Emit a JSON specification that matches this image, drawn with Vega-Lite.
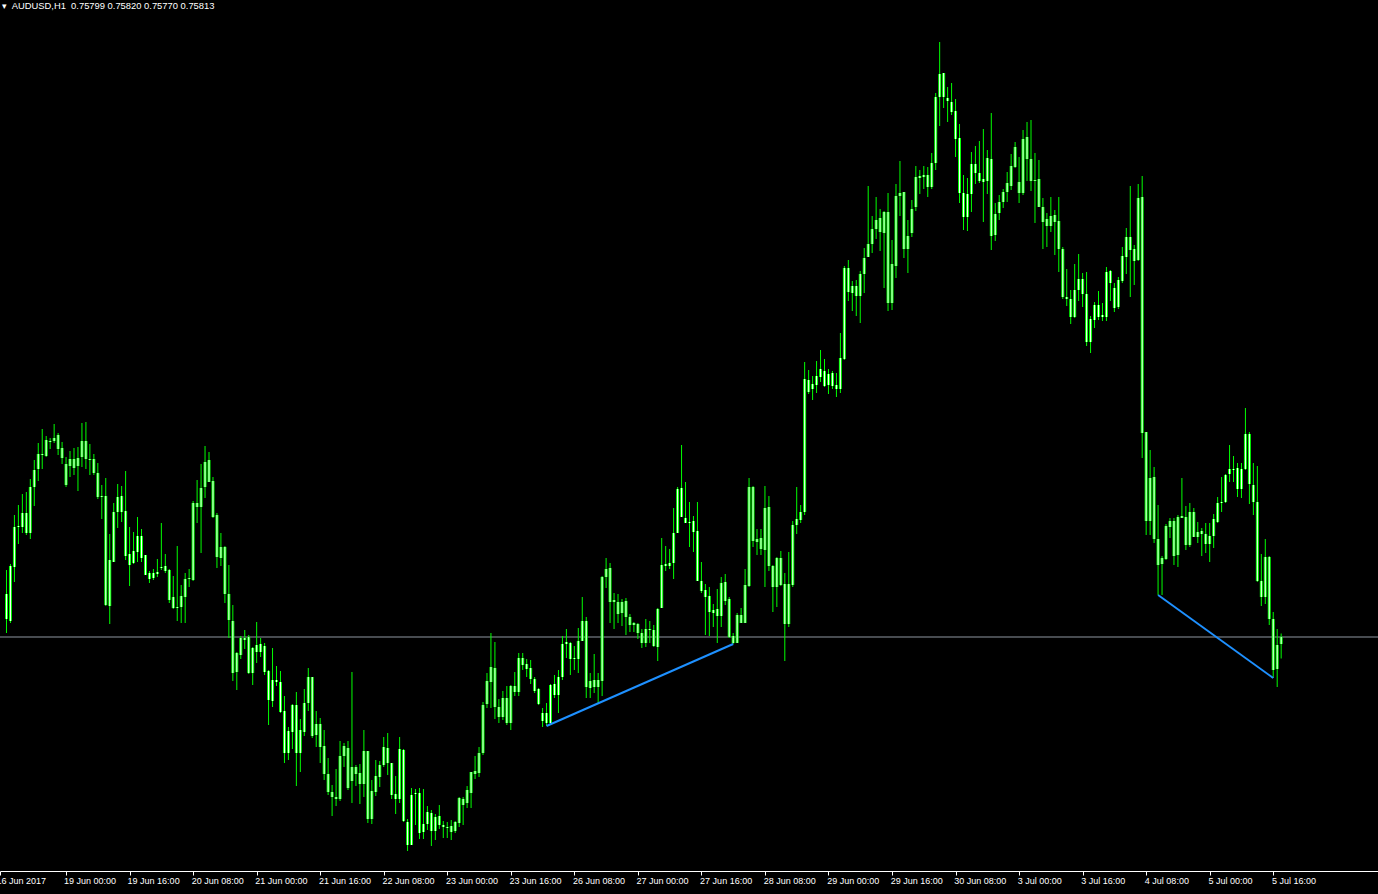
{
"$schema":"https://vega.github.io/schema/vega-lite/v6.json",
"width":1378,"height":871,
"autosize":{"type":"none"},
"padding":{"left":0,"top":0,"right":0,"bottom":23},
"background":"#000000",
"config":{"view":{"stroke":null}},
"title":{"text":"▾\u00a0\u00a0AUDUSD,H1\u00a0\u00a00.75799 0.75820 0.75770 0.75813","anchor":"start","frame":"group","orient":"top","offset":-11,"baseline":"top","dx":1.5,"font":"Liberation Sans","fontSize":9.4,"fontWeight":"normal","color":"#ffffff"},
"datasets":{
"bid":[{"price":0.75813}],
"bars":[
{"k":0,"o":0.75899,"h":0.75947,"l":0.75821,"c":0.75849},
{"k":1,"o":0.75845,"h":0.75959,"l":0.75841,"c":0.75955},
{"k":2,"o":0.75953,"h":0.76057,"l":0.75923,"c":0.76033},
{"k":3,"o":0.76033,"h":0.76077,"l":0.75999,"c":0.76035},
{"k":4,"o":0.76033,"h":0.76099,"l":0.76021,"c":0.76061},
{"k":5,"o":0.76061,"h":0.76103,"l":0.76017,"c":0.76021},
{"k":6,"o":0.76021,"h":0.76129,"l":0.76009,"c":0.76113},
{"k":7,"o":0.76113,"h":0.76167,"l":0.76075,"c":0.76147},
{"k":8,"o":0.76149,"h":0.76201,"l":0.76125,"c":0.76179},
{"k":9,"o":0.76179,"h":0.76229,"l":0.76149,"c":0.76177},
{"k":10,"o":0.76175,"h":0.76215,"l":0.76173,"c":0.76207},
{"k":11,"o":0.76205,"h":0.76211,"l":0.76189,"c":0.76203},
{"k":12,"o":0.76205,"h":0.76239,"l":0.76201,"c":0.76211},
{"k":13,"o":0.76217,"h":0.76221,"l":0.76177,"c":0.76189},
{"k":14,"o":0.76191,"h":0.76203,"l":0.76159,"c":0.76171},
{"k":15,"o":0.76159,"h":0.76173,"l":0.76113,"c":0.76117},
{"k":16,"o":0.76155,"h":0.76185,"l":0.76133,"c":0.76169},
{"k":17,"o":0.76169,"h":0.76191,"l":0.76137,"c":0.76151},
{"k":18,"o":0.76155,"h":0.76193,"l":0.76105,"c":0.76171},
{"k":19,"o":0.76173,"h":0.76241,"l":0.76153,"c":0.76205},
{"k":20,"o":0.76205,"h":0.76243,"l":0.76149,"c":0.76169},
{"k":21,"o":0.76169,"h":0.76199,"l":0.76137,"c":0.76167},
{"k":22,"o":0.76169,"h":0.76179,"l":0.76137,"c":0.76141},
{"k":23,"o":0.76141,"h":0.76161,"l":0.76089,"c":0.76093},
{"k":24,"o":0.76093,"h":0.76117,"l":0.76049,"c":0.76095},
{"k":25,"o":0.76095,"h":0.76131,"l":0.75875,"c":0.75877},
{"k":26,"o":0.75875,"h":0.76019,"l":0.75839,"c":0.75967},
{"k":27,"o":0.75963,"h":0.76081,"l":0.75963,"c":0.76063},
{"k":28,"o":0.76063,"h":0.76119,"l":0.76031,"c":0.76093},
{"k":29,"o":0.76095,"h":0.76115,"l":0.76043,"c":0.76063},
{"k":30,"o":0.76065,"h":0.76145,"l":0.75967,"c":0.75975},
{"k":31,"o":0.75979,"h":0.76033,"l":0.75915,"c":0.75957},
{"k":32,"o":0.75961,"h":0.76023,"l":0.75959,"c":0.75985},
{"k":33,"o":0.75983,"h":0.76053,"l":0.75963,"c":0.76015},
{"k":34,"o":0.76015,"h":0.76029,"l":0.75963,"c":0.75971},
{"k":35,"o":0.75977,"h":0.75977,"l":0.75937,"c":0.75937},
{"k":36,"o":0.75941,"h":0.75945,"l":0.75921,"c":0.75929},
{"k":37,"o":0.75931,"h":0.75949,"l":0.75927,"c":0.75941},
{"k":38,"o":0.75943,"h":0.75969,"l":0.75933,"c":0.75939},
{"k":39,"o":0.75951,"h":0.76041,"l":0.75947,"c":0.75953},
{"k":40,"o":0.75955,"h":0.75979,"l":0.75941,"c":0.75945},
{"k":41,"o":0.75947,"h":0.75949,"l":0.75881,"c":0.75887},
{"k":42,"o":0.75893,"h":0.75935,"l":0.75869,"c":0.75871},
{"k":43,"o":0.75871,"h":0.75995,"l":0.75845,"c":0.75873},
{"k":44,"o":0.75873,"h":0.75917,"l":0.75841,"c":0.75895},
{"k":45,"o":0.75893,"h":0.75941,"l":0.75841,"c":0.75929},
{"k":46,"o":0.75929,"h":0.75949,"l":0.75913,"c":0.75931},
{"k":47,"o":0.75927,"h":0.76085,"l":0.75925,"c":0.76081},
{"k":48,"o":0.76081,"h":0.76127,"l":0.76041,"c":0.76073},
{"k":49,"o":0.76073,"h":0.76159,"l":0.75981,"c":0.76111},
{"k":50,"o":0.76113,"h":0.76195,"l":0.76091,"c":0.76163},
{"k":51,"o":0.76167,"h":0.76183,"l":0.76123,"c":0.76123},
{"k":52,"o":0.76125,"h":0.76133,"l":0.76051,"c":0.76053},
{"k":53,"o":0.76057,"h":0.76061,"l":0.75951,"c":0.75973},
{"k":54,"o":0.75971,"h":0.76021,"l":0.75955,"c":0.75993},
{"k":55,"o":0.75993,"h":0.75995,"l":0.75881,"c":0.75899},
{"k":56,"o":0.75899,"h":0.75957,"l":0.75811,"c":0.75847},
{"k":57,"o":0.75845,"h":0.75877,"l":0.75725,"c":0.75741},
{"k":58,"o":0.75743,"h":0.75783,"l":0.75707,"c":0.75781},
{"k":59,"o":0.75777,"h":0.75815,"l":0.75769,"c":0.75811},
{"k":60,"o":0.75811,"h":0.75827,"l":0.75789,"c":0.75807},
{"k":61,"o":0.75813,"h":0.75817,"l":0.75739,"c":0.75741},
{"k":62,"o":0.75741,"h":0.75793,"l":0.75717,"c":0.75791},
{"k":63,"o":0.75797,"h":0.75843,"l":0.75761,"c":0.75783},
{"k":64,"o":0.75783,"h":0.75811,"l":0.75773,"c":0.75799},
{"k":65,"o":0.75795,"h":0.75801,"l":0.75737,"c":0.75743},
{"k":66,"o":0.75745,"h":0.75747,"l":0.75637,"c":0.75687},
{"k":67,"o":0.75685,"h":0.75791,"l":0.75673,"c":0.75727},
{"k":68,"o":0.75727,"h":0.75755,"l":0.75715,"c":0.75723},
{"k":69,"o":0.75723,"h":0.75745,"l":0.75661,"c":0.75663},
{"k":70,"o":0.75665,"h":0.75695,"l":0.75561,"c":0.75581},
{"k":71,"o":0.75581,"h":0.75633,"l":0.75567,"c":0.75625},
{"k":72,"o":0.75623,"h":0.75679,"l":0.75589,"c":0.75677},
{"k":73,"o":0.75677,"h":0.75703,"l":0.75515,"c":0.75581},
{"k":74,"o":0.75581,"h":0.75649,"l":0.75543,"c":0.75627},
{"k":75,"o":0.75623,"h":0.75709,"l":0.75615,"c":0.75681},
{"k":76,"o":0.75681,"h":0.75751,"l":0.75665,"c":0.75733},
{"k":77,"o":0.75733,"h":0.75733,"l":0.75611,"c":0.75615},
{"k":78,"o":0.75617,"h":0.75665,"l":0.75593,"c":0.75639},
{"k":79,"o":0.75639,"h":0.75651,"l":0.75561,"c":0.75593},
{"k":80,"o":0.75595,"h":0.75627,"l":0.75527,"c":0.75539},
{"k":81,"o":0.75539,"h":0.75571,"l":0.75497,"c":0.75503},
{"k":82,"o":0.75503,"h":0.75517,"l":0.75455,"c":0.75493},
{"k":83,"o":0.75493,"h":0.75549,"l":0.75475,"c":0.75489},
{"k":84,"o":0.75489,"h":0.75605,"l":0.75485,"c":0.75575},
{"k":85,"o":0.75575,"h":0.75601,"l":0.75553,"c":0.75595},
{"k":86,"o":0.75591,"h":0.75605,"l":0.75507,"c":0.75511},
{"k":87,"o":0.75525,"h":0.75743,"l":0.75481,"c":0.75553},
{"k":88,"o":0.75553,"h":0.75557,"l":0.75515,"c":0.75539},
{"k":89,"o":0.75541,"h":0.75559,"l":0.75479,"c":0.75519},
{"k":90,"o":0.75519,"h":0.75627,"l":0.75493,"c":0.75585},
{"k":91,"o":0.75585,"h":0.75585,"l":0.75441,"c":0.75449},
{"k":92,"o":0.75449,"h":0.75527,"l":0.75439,"c":0.75505},
{"k":93,"o":0.75503,"h":0.75567,"l":0.75495,"c":0.75535},
{"k":94,"o":0.75533,"h":0.75565,"l":0.75513,"c":0.75557},
{"k":95,"o":0.75557,"h":0.75613,"l":0.75553,"c":0.75593},
{"k":96,"o":0.75591,"h":0.75621,"l":0.75537,"c":0.75561},
{"k":97,"o":0.75561,"h":0.75561,"l":0.75489,"c":0.75497},
{"k":98,"o":0.75499,"h":0.75535,"l":0.75459,"c":0.75489},
{"k":99,"o":0.75489,"h":0.75613,"l":0.75481,"c":0.75589},
{"k":100,"o":0.75587,"h":0.75589,"l":0.75443,"c":0.75445},
{"k":101,"o":0.75443,"h":0.75449,"l":0.75385,"c":0.75397},
{"k":102,"o":0.75397,"h":0.75511,"l":0.75397,"c":0.75497},
{"k":103,"o":0.75499,"h":0.75509,"l":0.75437,"c":0.75501},
{"k":104,"o":0.75501,"h":0.75511,"l":0.75409,"c":0.75421},
{"k":105,"o":0.75423,"h":0.75509,"l":0.75409,"c":0.75439},
{"k":106,"o":0.75439,"h":0.75475,"l":0.75427,"c":0.75463},
{"k":107,"o":0.75461,"h":0.75467,"l":0.75395,"c":0.75425},
{"k":108,"o":0.75425,"h":0.75459,"l":0.75407,"c":0.75453},
{"k":109,"o":0.75455,"h":0.75477,"l":0.75429,"c":0.75437},
{"k":110,"o":0.75437,"h":0.75445,"l":0.75411,"c":0.75433},
{"k":111,"o":0.75433,"h":0.75443,"l":0.75411,"c":0.75431},
{"k":112,"o":0.75435,"h":0.75447,"l":0.75407,"c":0.75423},
{"k":113,"o":0.75425,"h":0.75445,"l":0.75421,"c":0.75443},
{"k":114,"o":0.75441,"h":0.75493,"l":0.75433,"c":0.75491},
{"k":115,"o":0.75489,"h":0.75493,"l":0.75437,"c":0.75477},
{"k":116,"o":0.75481,"h":0.75515,"l":0.75471,"c":0.75507},
{"k":117,"o":0.75501,"h":0.75543,"l":0.75471,"c":0.75543},
{"k":118,"o":0.75545,"h":0.75575,"l":0.75529,"c":0.75539},
{"k":119,"o":0.75541,"h":0.75593,"l":0.75533,"c":0.75581},
{"k":120,"o":0.75581,"h":0.75683,"l":0.75577,"c":0.75677},
{"k":121,"o":0.75679,"h":0.75741,"l":0.75671,"c":0.75725},
{"k":122,"o":0.75723,"h":0.75821,"l":0.75671,"c":0.75753},
{"k":123,"o":0.75751,"h":0.75803,"l":0.75649,"c":0.75673},
{"k":124,"o":0.75673,"h":0.75689,"l":0.75641,"c":0.75653},
{"k":125,"o":0.75653,"h":0.75705,"l":0.75647,"c":0.75691},
{"k":126,"o":0.75691,"h":0.75715,"l":0.75637,"c":0.75641},
{"k":127,"o":0.75641,"h":0.75717,"l":0.75627,"c":0.75715},
{"k":128,"o":0.75715,"h":0.75743,"l":0.75695,"c":0.75703},
{"k":129,"o":0.75703,"h":0.75781,"l":0.75695,"c":0.75771},
{"k":130,"o":0.75771,"h":0.75781,"l":0.75747,"c":0.75757},
{"k":131,"o":0.75759,"h":0.75769,"l":0.75733,"c":0.75749},
{"k":132,"o":0.75751,"h":0.75767,"l":0.75719,"c":0.75729},
{"k":133,"o":0.75729,"h":0.75733,"l":0.75701,"c":0.75705},
{"k":134,"o":0.75709,"h":0.75711,"l":0.75677,"c":0.75679},
{"k":135,"o":0.75661,"h":0.75671,"l":0.75633,"c":0.75645},
{"k":136,"o":0.75641,"h":0.75681,"l":0.75635,"c":0.75661},
{"k":137,"o":0.75641,"h":0.75719,"l":0.75639,"c":0.75717},
{"k":138,"o":0.75719,"h":0.75737,"l":0.75691,"c":0.75697},
{"k":139,"o":0.75697,"h":0.75747,"l":0.75661,"c":0.75733},
{"k":140,"o":0.75733,"h":0.75815,"l":0.75727,"c":0.75799},
{"k":141,"o":0.75799,"h":0.75829,"l":0.75771,"c":0.75803},
{"k":142,"o":0.75801,"h":0.75803,"l":0.75737,"c":0.75769},
{"k":143,"o":0.75769,"h":0.75795,"l":0.75747,"c":0.75771},
{"k":144,"o":0.75769,"h":0.75831,"l":0.75741,"c":0.75805},
{"k":145,"o":0.75805,"h":0.75893,"l":0.75805,"c":0.75845},
{"k":146,"o":0.75845,"h":0.75853,"l":0.75691,"c":0.75713},
{"k":147,"o":0.75711,"h":0.75741,"l":0.75691,"c":0.75725},
{"k":148,"o":0.75727,"h":0.75779,"l":0.75701,"c":0.75713},
{"k":149,"o":0.75713,"h":0.75741,"l":0.75681,"c":0.75727},
{"k":150,"o":0.75725,"h":0.75935,"l":0.75695,"c":0.75933},
{"k":151,"o":0.75933,"h":0.75971,"l":0.75911,"c":0.75949},
{"k":152,"o":0.75951,"h":0.75961,"l":0.75841,"c":0.75883},
{"k":153,"o":0.75883,"h":0.75901,"l":0.75829,"c":0.75887},
{"k":154,"o":0.75883,"h":0.75899,"l":0.75841,"c":0.75859},
{"k":155,"o":0.75861,"h":0.75889,"l":0.75835,"c":0.75883},
{"k":156,"o":0.75885,"h":0.75891,"l":0.75817,"c":0.75853},
{"k":157,"o":0.75853,"h":0.75859,"l":0.75823,"c":0.75837},
{"k":158,"o":0.75837,"h":0.75843,"l":0.75823,"c":0.75841},
{"k":159,"o":0.75839,"h":0.75841,"l":0.75809,"c":0.75821},
{"k":160,"o":0.75821,"h":0.75829,"l":0.75791,"c":0.75801},
{"k":161,"o":0.75801,"h":0.75849,"l":0.75793,"c":0.75829},
{"k":162,"o":0.75829,"h":0.75845,"l":0.75801,"c":0.75827},
{"k":163,"o":0.75827,"h":0.75837,"l":0.75793,"c":0.75795},
{"k":164,"o":0.75793,"h":0.75871,"l":0.75765,"c":0.75869},
{"k":165,"o":0.75871,"h":0.76011,"l":0.75871,"c":0.75957},
{"k":166,"o":0.75955,"h":0.75995,"l":0.75945,"c":0.75959},
{"k":167,"o":0.75961,"h":0.75989,"l":0.75949,"c":0.75955},
{"k":168,"o":0.75961,"h":0.76071,"l":0.75929,"c":0.76021},
{"k":169,"o":0.76021,"h":0.76113,"l":0.76021,"c":0.76109},
{"k":170,"o":0.76111,"h":0.76197,"l":0.76053,"c":0.76053},
{"k":171,"o":0.76051,"h":0.76123,"l":0.76041,"c":0.76041},
{"k":172,"o":0.76041,"h":0.76083,"l":0.75993,"c":0.76043},
{"k":173,"o":0.76045,"h":0.76055,"l":0.75983,"c":0.76023},
{"k":174,"o":0.76025,"h":0.76083,"l":0.75925,"c":0.75925},
{"k":175,"o":0.75925,"h":0.75963,"l":0.75901,"c":0.75905},
{"k":176,"o":0.75907,"h":0.75919,"l":0.75817,"c":0.75893},
{"k":177,"o":0.75895,"h":0.75913,"l":0.75815,"c":0.75863},
{"k":178,"o":0.75861,"h":0.75879,"l":0.75833,"c":0.75867},
{"k":179,"o":0.75869,"h":0.75909,"l":0.75801,"c":0.75855},
{"k":180,"o":0.75855,"h":0.75933,"l":0.75833,"c":0.75921},
{"k":181,"o":0.75923,"h":0.75939,"l":0.75877,"c":0.75885},
{"k":182,"o":0.75889,"h":0.75893,"l":0.75811,"c":0.75813},
{"k":183,"o":0.75815,"h":0.75821,"l":0.75799,"c":0.75801},
{"k":184,"o":0.75801,"h":0.75861,"l":0.75801,"c":0.75857},
{"k":185,"o":0.75857,"h":0.75871,"l":0.75841,"c":0.75841},
{"k":186,"o":0.75841,"h":0.75949,"l":0.75841,"c":0.75917},
{"k":187,"o":0.75915,"h":0.76131,"l":0.75913,"c":0.76113},
{"k":188,"o":0.76113,"h":0.76115,"l":0.75993,"c":0.76005},
{"k":189,"o":0.76003,"h":0.76029,"l":0.75977,"c":0.76009},
{"k":190,"o":0.76011,"h":0.76029,"l":0.75977,"c":0.75989},
{"k":191,"o":0.75987,"h":0.76115,"l":0.75913,"c":0.76071},
{"k":192,"o":0.76073,"h":0.76095,"l":0.75945,"c":0.75955},
{"k":193,"o":0.75955,"h":0.75957,"l":0.75863,"c":0.75913},
{"k":194,"o":0.75913,"h":0.75973,"l":0.75873,"c":0.75971},
{"k":195,"o":0.75971,"h":0.75985,"l":0.75915,"c":0.75917},
{"k":196,"o":0.75919,"h":0.75941,"l":0.75765,"c":0.75839},
{"k":197,"o":0.75839,"h":0.75983,"l":0.75833,"c":0.75919},
{"k":198,"o":0.75917,"h":0.76045,"l":0.75913,"c":0.76037},
{"k":199,"o":0.76037,"h":0.76113,"l":0.76019,"c":0.76049},
{"k":200,"o":0.76047,"h":0.76077,"l":0.76041,"c":0.76063},
{"k":201,"o":0.76063,"h":0.76363,"l":0.76057,"c":0.76329},
{"k":202,"o":0.76327,"h":0.76347,"l":0.76299,"c":0.76303},
{"k":203,"o":0.76309,"h":0.76335,"l":0.76287,"c":0.76319},
{"k":204,"o":0.76317,"h":0.76365,"l":0.76301,"c":0.76335},
{"k":205,"o":0.76333,"h":0.76387,"l":0.76323,"c":0.76349},
{"k":206,"o":0.76345,"h":0.76369,"l":0.76313,"c":0.76315},
{"k":207,"o":0.76317,"h":0.76349,"l":0.76299,"c":0.76339},
{"k":208,"o":0.76341,"h":0.76345,"l":0.76309,"c":0.76315},
{"k":209,"o":0.76317,"h":0.76341,"l":0.76293,"c":0.76309},
{"k":210,"o":0.76309,"h":0.76421,"l":0.76301,"c":0.76371},
{"k":211,"o":0.76369,"h":0.76555,"l":0.76367,"c":0.76551},
{"k":212,"o":0.76551,"h":0.76567,"l":0.76485,"c":0.76503},
{"k":213,"o":0.76501,"h":0.76525,"l":0.76465,"c":0.76515},
{"k":214,"o":0.76515,"h":0.76527,"l":0.76455,"c":0.76495},
{"k":215,"o":0.76495,"h":0.76545,"l":0.76441,"c":0.76539},
{"k":216,"o":0.76539,"h":0.76591,"l":0.76501,"c":0.76571},
{"k":217,"o":0.76573,"h":0.76715,"l":0.76573,"c":0.76599},
{"k":218,"o":0.76599,"h":0.76655,"l":0.76581,"c":0.76629},
{"k":219,"o":0.76629,"h":0.76693,"l":0.76609,"c":0.76647},
{"k":220,"o":0.76651,"h":0.76669,"l":0.76585,"c":0.76623},
{"k":221,"o":0.76621,"h":0.76665,"l":0.76511,"c":0.76663},
{"k":222,"o":0.76663,"h":0.76701,"l":0.76465,"c":0.76481},
{"k":223,"o":0.76481,"h":0.76607,"l":0.76467,"c":0.76559},
{"k":224,"o":0.76555,"h":0.76719,"l":0.76531,"c":0.76695},
{"k":225,"o":0.76695,"h":0.76765,"l":0.76655,"c":0.76701},
{"k":226,"o":0.76703,"h":0.76703,"l":0.76571,"c":0.76589},
{"k":227,"o":0.76589,"h":0.76647,"l":0.76541,"c":0.76615},
{"k":228,"o":0.76621,"h":0.76687,"l":0.76613,"c":0.76669},
{"k":229,"o":0.76673,"h":0.76755,"l":0.76665,"c":0.76733},
{"k":230,"o":0.76731,"h":0.76747,"l":0.76699,"c":0.76735},
{"k":231,"o":0.76733,"h":0.76755,"l":0.76709,"c":0.76737},
{"k":232,"o":0.76737,"h":0.76753,"l":0.76693,"c":0.76713},
{"k":233,"o":0.76713,"h":0.76781,"l":0.76709,"c":0.76761},
{"k":234,"o":0.76761,"h":0.76901,"l":0.76747,"c":0.76893},
{"k":235,"o":0.76893,"h":0.77003,"l":0.76835,"c":0.76939},
{"k":236,"o":0.76941,"h":0.76941,"l":0.76871,"c":0.76893},
{"k":237,"o":0.76891,"h":0.76913,"l":0.76843,"c":0.76885},
{"k":238,"o":0.76883,"h":0.76921,"l":0.76857,"c":0.76863},
{"k":239,"o":0.76865,"h":0.76889,"l":0.76773,"c":0.76809},
{"k":240,"o":0.76811,"h":0.76839,"l":0.76681,"c":0.76701},
{"k":241,"o":0.76701,"h":0.76737,"l":0.76627,"c":0.76653},
{"k":242,"o":0.76653,"h":0.76731,"l":0.76625,"c":0.76699},
{"k":243,"o":0.76699,"h":0.76783,"l":0.76663,"c":0.76759},
{"k":244,"o":0.76759,"h":0.76795,"l":0.76719,"c":0.76741},
{"k":245,"o":0.76741,"h":0.76805,"l":0.76721,"c":0.76725},
{"k":246,"o":0.76723,"h":0.76829,"l":0.76643,"c":0.76729},
{"k":247,"o":0.76725,"h":0.76787,"l":0.76699,"c":0.76771},
{"k":248,"o":0.76769,"h":0.76861,"l":0.76587,"c":0.76615},
{"k":249,"o":0.76617,"h":0.76681,"l":0.76605,"c":0.76659},
{"k":250,"o":0.76661,"h":0.76697,"l":0.76647,"c":0.76683},
{"k":251,"o":0.76683,"h":0.76709,"l":0.76671,"c":0.76703},
{"k":252,"o":0.76703,"h":0.76743,"l":0.76683,"c":0.76721},
{"k":253,"o":0.76715,"h":0.76779,"l":0.76707,"c":0.76755},
{"k":254,"o":0.76753,"h":0.76803,"l":0.76751,"c":0.76793},
{"k":255,"o":0.76723,"h":0.76773,"l":0.76681,"c":0.76701},
{"k":256,"o":0.76701,"h":0.76827,"l":0.76697,"c":0.76809},
{"k":257,"o":0.76813,"h":0.76843,"l":0.76725,"c":0.76769},
{"k":258,"o":0.76769,"h":0.76847,"l":0.76705,"c":0.76725},
{"k":259,"o":0.76725,"h":0.76781,"l":0.76641,"c":0.76727},
{"k":260,"o":0.76729,"h":0.76767,"l":0.76673,"c":0.76673},
{"k":261,"o":0.76673,"h":0.76691,"l":0.76589,"c":0.76643},
{"k":262,"o":0.76649,"h":0.76661,"l":0.76593,"c":0.76635},
{"k":263,"o":0.76635,"h":0.76693,"l":0.76623,"c":0.76655},
{"k":264,"o":0.76657,"h":0.76667,"l":0.76577,"c":0.76643},
{"k":265,"o":0.76645,"h":0.76693,"l":0.76543,"c":0.76589},
{"k":266,"o":0.76589,"h":0.76593,"l":0.76489,"c":0.76493},
{"k":267,"o":0.76493,"h":0.76549,"l":0.76475,"c":0.76489},
{"k":268,"o":0.76489,"h":0.76507,"l":0.76439,"c":0.76453},
{"k":269,"o":0.76453,"h":0.76559,"l":0.76451,"c":0.76507},
{"k":270,"o":0.76507,"h":0.76579,"l":0.76485,"c":0.76529},
{"k":271,"o":0.76529,"h":0.76541,"l":0.76473,"c":0.76499},
{"k":272,"o":0.76499,"h":0.76543,"l":0.76395,"c":0.76403},
{"k":273,"o":0.76403,"h":0.76455,"l":0.76381,"c":0.76449},
{"k":274,"o":0.76447,"h":0.76483,"l":0.76431,"c":0.76477},
{"k":275,"o":0.76477,"h":0.76505,"l":0.76447,"c":0.76453},
{"k":276,"o":0.76453,"h":0.76481,"l":0.76445,"c":0.76457},
{"k":277,"o":0.76453,"h":0.76553,"l":0.76445,"c":0.76543},
{"k":278,"o":0.76545,"h":0.76547,"l":0.76485,"c":0.76521},
{"k":279,"o":0.76511,"h":0.76521,"l":0.76463,"c":0.76471},
{"k":280,"o":0.76473,"h":0.76533,"l":0.76469,"c":0.76527},
{"k":281,"o":0.76525,"h":0.76593,"l":0.76521,"c":0.76575},
{"k":282,"o":0.76573,"h":0.76631,"l":0.76539,"c":0.76613},
{"k":283,"o":0.76613,"h":0.76715,"l":0.76493,"c":0.76587},
{"k":284,"o":0.76589,"h":0.76597,"l":0.76517,"c":0.76565},
{"k":285,"o":0.76567,"h":0.76719,"l":0.76565,"c":0.76691},
{"k":286,"o":0.76693,"h":0.76735,"l":0.76171,"c":0.76221},
{"k":287,"o":0.76223,"h":0.76223,"l":0.76017,"c":0.76045},
{"k":288,"o":0.76045,"h":0.76187,"l":0.76017,"c":0.76131},
{"k":289,"o":0.76133,"h":0.76153,"l":0.76001,"c":0.76009},
{"k":290,"o":0.76009,"h":0.76077,"l":0.75897,"c":0.75957},
{"k":291,"o":0.75959,"h":0.75975,"l":0.75897,"c":0.75971},
{"k":292,"o":0.75969,"h":0.76039,"l":0.75967,"c":0.76035},
{"k":293,"o":0.76033,"h":0.76051,"l":0.76011,"c":0.76045},
{"k":294,"o":0.76045,"h":0.76051,"l":0.75957,"c":0.75975},
{"k":295,"o":0.75977,"h":0.76057,"l":0.75953,"c":0.76053},
{"k":296,"o":0.76051,"h":0.76131,"l":0.76051,"c":0.76055},
{"k":297,"o":0.76053,"h":0.76075,"l":0.75987,"c":0.75997},
{"k":298,"o":0.75997,"h":0.76081,"l":0.75993,"c":0.76063},
{"k":299,"o":0.76063,"h":0.76071,"l":0.76013,"c":0.76013},
{"k":300,"o":0.76013,"h":0.76043,"l":0.76001,"c":0.76023},
{"k":301,"o":0.76025,"h":0.76031,"l":0.75975,"c":0.76019},
{"k":302,"o":0.76019,"h":0.76041,"l":0.75981,"c":0.75999},
{"k":303,"o":0.75999,"h":0.76041,"l":0.75963,"c":0.76015},
{"k":304,"o":0.76015,"h":0.76059,"l":0.75991,"c":0.76049},
{"k":305,"o":0.76043,"h":0.76093,"l":0.76041,"c":0.76081},
{"k":306,"o":0.76081,"h":0.76133,"l":0.76063,"c":0.76083},
{"k":307,"o":0.76083,"h":0.76139,"l":0.76081,"c":0.76137},
{"k":308,"o":0.76139,"h":0.76197,"l":0.76123,"c":0.76149},
{"k":309,"o":0.76149,"h":0.76175,"l":0.76123,"c":0.76147},
{"k":310,"o":0.76151,"h":0.76161,"l":0.76093,"c":0.76109},
{"k":311,"o":0.76109,"h":0.76161,"l":0.76091,"c":0.76149},
{"k":312,"o":0.76149,"h":0.76271,"l":0.76147,"c":0.76219},
{"k":313,"o":0.76219,"h":0.76223,"l":0.76079,"c":0.76119},
{"k":314,"o":0.76117,"h":0.76161,"l":0.76057,"c":0.76083},
{"k":315,"o":0.76083,"h":0.76155,"l":0.75923,"c":0.75925},
{"k":316,"o":0.75925,"h":0.75979,"l":0.75875,"c":0.75893},
{"k":317,"o":0.75893,"h":0.76009,"l":0.75879,"c":0.75973},
{"k":318,"o":0.75973,"h":0.75975,"l":0.75837,"c":0.75849},
{"k":319,"o":0.75849,"h":0.75863,"l":0.75731,"c":0.75747},
{"k":320,"o":0.75749,"h":0.75829,"l":0.75713,"c":0.75797},
{"k":321,"o":0.75799,"h":0.75820,"l":0.75770,"c":0.75813}
],
"trend":[
{"line":1,"k":136,"p":0.75635},
{"line":1,"k":183,"p":0.75799},
{"line":2,"k":290,"p":0.75897},
{"line":2,"k":319,"p":0.75731}
]
},
"layer":[
{"data":{"name":"bid"},
 "mark":{"type":"rule","color":"#8e96a0","strokeWidth":1},
 "encoding":{"y":{"field":"price","type":"quantitative","scale":{"domain":[0.75345,0.77087],"nice":false,"zero":false},"axis":null}}},
{"data":{"name":"bars"},
 "mark":{"type":"rule","color":"#00ff00","strokeWidth":1},
 "encoding":{
  "x":{"field":"k","type":"quantitative","scale":{"domain":[-0.375,344.125],"nice":false,"zero":false},
   "axis":{"values":[-1.625,15,31,47,63,79,95,111,127,143,159,175,191,207,223,239,255,271,287,303,319],
    "labelExpr":"datum.value < 0 ? '16 Jun 2017' : ['19 Jun 00:00','19 Jun 16:00','20 Jun 08:00','21 Jun 00:00','21 Jun 16:00','22 Jun 08:00','23 Jun 00:00','23 Jun 16:00','26 Jun 08:00','27 Jun 00:00','27 Jun 16:00','28 Jun 08:00','29 Jun 00:00','29 Jun 16:00','30 Jun 08:00','3 Jul 00:00','3 Jul 16:00','4 Jul 08:00','5 Jul 00:00','5 Jul 16:00'][round((datum.value-15)/16)]",
    "title":null,"grid":false,"domainColor":"#ffffff","domainWidth":1,"tickColor":"#ffffff","tickWidth":1,"tickSize":4,
    "labelColor":"#ffffff","labelFont":"Liberation Sans","labelFontSize":9,"labelAlign":"left","labelBaseline":"alphabetic",
    "labelPadding":8,
    "labelOffset":{"condition":[{"test":"datum.value < 0","value":-4},{"test":"datum.value == 15 || datum.value == 31","value":-2.5}],"value":-1.8},
    "labelFlush":false,"labelOverlap":false,"labelBound":false}},
  "y":{"field":"l","type":"quantitative","axis":null},
  "y2":{"field":"h"}}},
{"data":{"name":"bars"},
 "mark":{"type":"bar","width":3,"fill":"#00ff00","strokeWidth":0},
 "encoding":{
  "x":{"field":"k","type":"quantitative"},
  "y":{"field":"o","type":"quantitative","axis":null},
  "y2":{"field":"c"}}},
{"data":{"name":"bars"},
 "mark":{"type":"bar","width":1,"fill":"#ffffff","strokeWidth":0},
 "encoding":{
  "x":{"field":"k","type":"quantitative"},
  "y":{"field":"o","type":"quantitative","axis":null},
  "y2":{"field":"c"}}},
{"data":{"name":"trend"},
 "mark":{"type":"line","color":"#1e90ff","strokeWidth":2},
 "encoding":{
  "x":{"field":"k","type":"quantitative"},
  "y":{"field":"p","type":"quantitative","axis":null},
  "detail":{"field":"line"}}}
]
}
